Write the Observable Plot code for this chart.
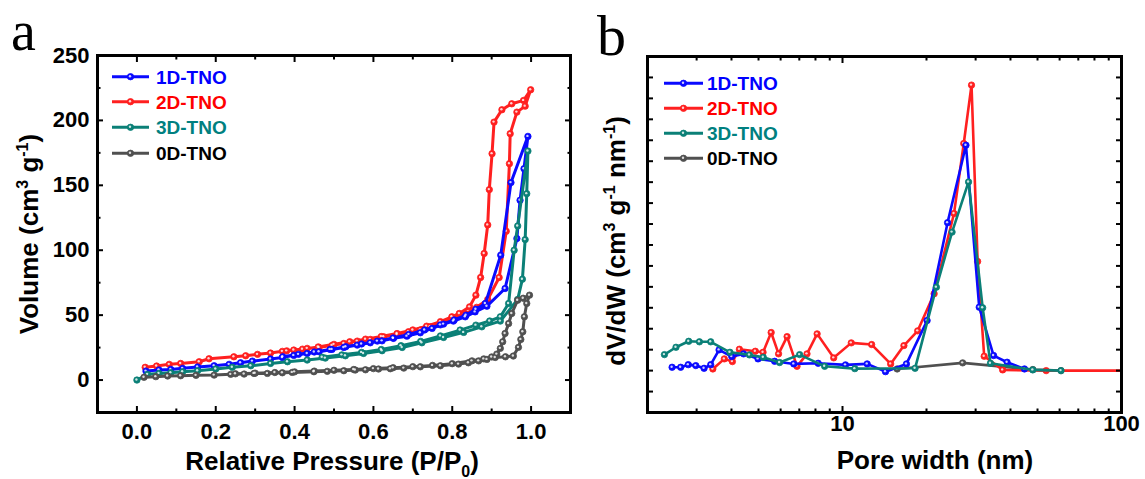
<!DOCTYPE html>
<html><head><meta charset="utf-8">
<script src="https://cdn.jsdelivr.net/npm/d3@7"></script>
<script src="https://cdn.jsdelivr.net/npm/@observablehq/plot@0.6"></script>
<style>
html,body{margin:0;padding:0;background:#fff;}
#wrap{position:relative;width:1145px;height:479px;overflow:hidden;font-family:"Liberation Sans",Arial,sans-serif;}
#wrap svg{position:absolute;top:0;}
#wrap svg.plotpanel text{font-weight:bold;}
</style></head><body><div id="wrap"></div>
<script>
// ---------- series ----------
const seriesNames = ["1D-TNO", "2D-TNO", "3D-TNO", "0D-TNO"];
const seriesColors = ["#0a0aff", "#ff2020", "#0b8077", "#505050"];
const legendTextColors = ["#0000ff", "#ff0000", "#008080", "#000000"];

// ---------- panel a: N2 isotherms (adsorption then desorption) ----------
const p1D = [0.023,0.056,0.086,0.116,0.154,0.196,0.234,0.263,0.293,0.339,0.369,0.398,0.432,0.462,0.495,0.525,0.559,0.592,0.622,0.651,0.685,0.719,0.749,0.778,0.803,0.833,0.858,0.888,0.934,0.964,0.972,0.982,0.992,
  0.949,0.923,0.884,0.860,0.835,0.805,0.770,0.730,0.690,0.650,0.610,0.570,0.530,0.490,0.450,0.410,0.370];
const v1D = [6.9,7.7,8.2,9.0,10.0,11.0,12.1,13.3,14.6,16.2,17.4,19.0,20.5,21.8,23.6,25.1,26.9,28.7,30.2,32.1,33.8,36.4,39.8,43.1,45.4,48.7,52.5,56.9,70.5,109,138.5,162.8,187.7,
  152.1,96.2,59.0,54.5,50.0,46.3,42.5,38.6,35.2,32.4,30.0,27.8,25.7,23.6,21.6,19.8,17.9];

const p2D = [0.021,0.050,0.082,0.111,0.158,0.183,0.246,0.276,0.306,0.339,0.369,0.398,0.432,0.462,0.495,0.525,0.559,0.592,0.626,0.660,0.689,0.719,0.744,0.774,0.805,0.835,0.862,0.890,0.919,0.937,0.945,0.947,0.964,0.985,0.999,
  0.981,0.951,0.926,0.906,0.901,0.894,0.890,0.881,0.872,0.860,0.844,0.818,0.799,0.770,0.735,0.700,0.660,0.620,0.580,0.540,0.500,0.460,0.420,0.380];
const v2D = [9.8,10.8,12.1,12.8,14.1,16.4,17.9,18.7,19.8,20.8,22.1,23.1,24.4,25.1,26.7,28.2,30.0,31.3,33.3,35.1,37.2,38.5,41.0,44.1,47.0,51.0,56.0,62.0,79.0,114.6,166.7,189.8,206.4,211.0,223.6,
  215.4,212.8,208.2,198.7,174.4,146.7,119.5,97.5,79.0,65.4,56.4,51.3,48.7,45.0,41.5,38.6,35.8,33.5,31.5,29.5,27.5,25.5,23.8,22.5];

const p3D = [0.000,0.027,0.056,0.086,0.116,0.154,0.200,0.242,0.289,0.339,0.382,0.432,0.478,0.529,0.575,0.622,0.673,0.723,0.778,0.829,0.875,0.922,0.966,0.978,0.985,0.989,0.992,
  0.966,0.957,0.943,0.922,0.895,0.860,0.820,0.770,0.720,0.670,0.620,0.570,0.520,0.470];
const v3D = [0.0,4.4,5.1,5.6,6.4,7.2,8.5,9.8,11.0,12.8,14.1,15.4,16.9,18.7,20.5,22.6,25.1,28.7,32.8,36.7,41.0,45.4,62.1,77.7,108.2,143.6,176.4,
  118.7,100.0,59.0,48.7,45.5,42.3,38.5,34.0,29.8,26.5,23.5,21.3,19.4,17.6];

const p0D = [0.018,0.048,0.078,0.111,0.150,0.196,0.238,0.272,0.297,0.331,0.369,0.394,0.449,0.483,0.525,0.554,0.580,0.613,0.643,0.677,0.719,0.770,0.816,0.841,0.867,0.888,0.909,0.935,0.955,0.968,0.974,0.979,0.983,0.989,0.996,
  0.980,0.966,0.951,0.943,0.934,0.928,0.922,0.913,0.900,0.880,0.850,0.800,0.750,0.700,0.650,0.600,0.550,0.500,0.450,0.400,0.350,0.300,0.250];
const v0D = [2.1,2.6,3.1,3.3,3.6,3.8,4.4,4.6,5.1,5.1,5.6,5.9,6.4,6.7,7.2,7.7,7.9,8.5,8.7,9.2,10.2,11.0,12.3,13.3,14.8,15.9,17.4,17.9,18.5,25.2,31.3,37.2,48.7,59.0,65.4,
  63.0,61.5,51.3,43.5,35.9,29.5,24.4,20.0,17.8,16.3,14.8,12.6,11.3,10.3,9.5,8.8,8.1,7.5,6.9,6.3,5.8,5.3,4.8];

const xTicksA = [0, 0.2, 0.4, 0.6, 0.8, 1.0];
const xMinorA = [0.1, 0.3, 0.5, 0.7, 0.9];
const yTicksA = [0, 50, 100, 150, 200, 250];
const yMinorA = [25, 75, 125, 175, 225];

// ---------- panel b: pore size distribution ----------
const w1D = [2.45,2.63,2.80,2.98,3.19,3.37,3.61,4.01,4.42,4.98,5.71,6.69,8.18,10.25,12.26,14.26,16.95,20.1,23.8,27.7,30.9,34.8,38.9,44.9];
const d1D = [0.00032,0.00032,0.00057,0.00048,0.00022,0.00057,0.00198,0.00134,0.00160,0.00112,0.00089,0.00064,0.00070,0.00055,0.00064,-0.00010,0.00064,0.00478,0.01413,0.02153,0.00606,0.00144,0.00080,0.00016];

const w2D = [3.43,3.77,4.03,4.27,4.87,5.19,5.55,5.90,6.33,6.87,7.46,8.11,9.30,10.75,12.72,14.88,16.6,18.6,21.3,25.1,27.2,29.0,30.5,32.2,37.5,53.7,150];
const d2D = [0.00016,0.00112,0.00086,0.00204,0.00185,0.00175,0.00364,0.00160,0.00325,0.00041,0.00160,0.00351,0.00122,0.00265,0.00249,0.00064,0.00239,0.00380,0.00734,0.01500,0.02169,0.02727,0.01043,0.00137,0.00007,0,0];

const w3D = [2.30,2.53,2.81,3.07,3.37,3.95,4.64,5.20,5.95,7.02,8.63,11.07,18.2,21.7,24.7,28.3,31.8,33.9,48.1,60.7];
const d3D = [0.00153,0.00223,0.00280,0.00275,0.00275,0.00175,0.00150,0.00127,0.00077,0.00153,0.00041,0.00019,0.00022,0.00797,0.01323,0.01802,0.00600,0.00070,0.00007,0];

const w0D = [15.7,26.96,48.1,60.7];
const d0D = [0.00016,0.00074,0.00010,0];

const xTicksB = [10, 100];
const xMinorB = [3,4,5,6,7,8,9,20,30,40,50,60,70,80,90];
const yTicksB = d3.range(-0.002, 0.0281, 0.002);

// ---------- helpers ----------
const rows = (xs, ys) => xs.map((x, i) => ({x, y: ys[i]}));
const FONT = "Liberation Sans, Arial, Helvetica, sans-serif";

function seriesMarks(data, color, sw) {
  return [
    Plot.line(data, {x: "x", y: "y", stroke: color, strokeWidth: sw, strokeLinejoin: "round", clip: true}),
    Plot.dot(data, {x: "x", y: "y", r: 3.2, fill: color, stroke: color, strokeWidth: 0.8, clip: true}),
    Plot.dot(data, {x: "x", y: "y", r: 1.2, fill: "white", fillOpacity: 0.8, dx: -0.5, dy: -0.5, clip: true})
  ];
}
const noText = () => "";
function frameTicks(xMajor, xMinor, yMajor, yMinor, majLen, minLen) {
  const m = [];
  for (const anchor of ["bottom", "top"]) {
    m.push(Plot.axisX({anchor, ticks: xMajor, tickSize: -majLen, tickFormat: noText, label: null, strokeWidth: 2}));
    m.push(Plot.axisX({anchor, ticks: xMinor, tickSize: -minLen, tickFormat: noText, label: null, strokeWidth: 2}));
  }
  for (const anchor of ["left", "right"]) {
    m.push(Plot.axisY({anchor, ticks: yMajor, tickSize: -majLen, tickFormat: noText, label: null, strokeWidth: 2}));
    if (yMinor) m.push(Plot.axisY({anchor, ticks: yMinor, tickSize: -minLen, tickFormat: noText, label: null, strokeWidth: 2}));
  }
  return m;
}

const wrap = document.getElementById("wrap");

// ---------- panel a ----------
const dataA = [rows(p1D, v1D), rows(p2D, v2D), rows(p3D, v3D), rows(p0D, v0D)];
const orderA = [1, 0, 2, 3];
const plotA = Plot.plot({
  width: 580, height: 479,
  marginLeft: 97, marginRight: 10, marginTop: 55, marginBottom: 67,
  className: "plotpanel",
  style: {fontFamily: FONT, background: "transparent", overflow: "visible"},
  x: {domain: [-0.1, 1.1]},
  y: {domain: [-25, 250]},
  marks: [
    ...orderA.flatMap(i => seriesMarks(dataA[i], seriesColors[i], 3)),
    ...frameTicks(xTicksA, xMinorA, yTicksA, yMinorA, 6, 3.5),
    Plot.axisX({ticks: xTicksA, tickSize: 0, tickPadding: 11, tickFormat: d3.format(".1f"), label: null, fontSize: 22, fontWeight: "bold", fill: "black"}),
    Plot.axisY({ticks: yTicksA, tickSize: 0, tickPadding: 8, tickFormat: d3.format("d"), label: null, fontSize: 22, fontWeight: "bold", fill: "black"}),
    Plot.frame({stroke: "black", strokeWidth: 3})
  ]
});
plotA.classList.add("plotpanel");
plotA.style.left = "0px";
wrap.appendChild(plotA);

// ---------- panel b ----------
const dataB = [rows(w1D, d1D), rows(w2D, d2D), rows(w3D, d3D), rows(w0D, d0D)];
const orderB = [3, 1, 0, 2];
const plotB = Plot.plot({
  width: 565, height: 479,
  marginLeft: 67, marginRight: 24, marginTop: 56, marginBottom: 67,
  style: {fontFamily: FONT, background: "transparent", overflow: "visible"},
  x: {type: "log", domain: [2, 100]},
  y: {domain: [-0.004, 0.030]},
  marks: [
    ...orderB.flatMap(i => seriesMarks(dataB[i], seriesColors[i], 2.6)),
    ...frameTicks(xTicksB, xMinorB, yTicksB, null, 6, 3.5),
    Plot.axisX({ticks: xTicksB, tickSize: 0, tickPadding: 3, tickFormat: d => String(d), label: null, fontSize: 22, fontWeight: "bold", fill: "black"}),
    Plot.frame({stroke: "black", strokeWidth: 3})
  ]
});
plotB.classList.add("plotpanel");
plotB.style.left = "580px";
wrap.appendChild(plotB);

// ---------- overlay: titles, legends, panel letters ----------
const ov = d3.select(wrap).append("svg")
  .attr("width", 1145).attr("height", 479)
  .style("left", "0px").style("font-family", FONT);

ov.append("text").attr("x", 11).attr("y", 50)
  .attr("font-family", "Liberation Serif, Times New Roman, serif").attr("font-size", 56).text("a");
ov.append("text").attr("x", 597).attr("y", 55)
  .attr("font-family", "Liberation Serif, Times New Roman, serif").attr("font-size", 58).text("b");

function richText(g, parts) {
  let shift = 0;
  for (const [t, kind] of parts) {
    const target = kind === "sup" ? -10 : kind === "sub" ? 7 : 0;
    g.append("tspan").attr("dy", target - shift)
      .attr("font-size", kind === "n" ? null : 16).text(t);
    shift = target;
  }
}
const titleStyle = sel => sel.attr("font-size", 26).attr("font-weight", "bold").attr("fill", "black").attr("text-anchor", "middle");

richText(ov.append("text").call(titleStyle).attr("transform", "translate(38,234) rotate(-90)"),
  [["Volume (cm", "n"], ["3", "sup"], [" g", "n"], ["-1", "sup"], [")", "n"]]);
richText(ov.append("text").call(titleStyle).attr("x", 332).attr("y", 470),
  [["Relative Pressure (P/P", "n"], ["0", "sub"], [")", "n"]]);
richText(ov.append("text").call(titleStyle).attr("transform", "translate(625,241) rotate(-90)"),
  [["dV/dW (cm", "n"], ["3", "sup"], [" g", "n"], ["-1", "sup"], [" nm", "n"], ["-1", "sup"], [")", "n"]]);
ov.append("text").call(titleStyle).attr("x", 935).attr("y", 469).text("Pore width (nm)");

function legend(x0, x1, tx, ys) {
  seriesNames.forEach((name, i) => {
    const y = ys[i];
    ov.append("line").attr("x1", x0).attr("x2", x1).attr("y1", y).attr("y2", y)
      .attr("stroke", seriesColors[i]).attr("stroke-width", 3);
    ov.append("circle").attr("cx", (x0 + x1) / 2).attr("cy", y).attr("r", 3.2)
      .attr("fill", seriesColors[i]).attr("stroke", seriesColors[i]).attr("stroke-width", 0.8);
    ov.append("circle").attr("cx", (x0 + x1) / 2 - 0.5).attr("cy", y - 0.5).attr("r", 1.2)
      .attr("fill", "white").attr("fill-opacity", 0.8);
    ov.append("text").attr("x", tx).attr("y", y + 6.8).attr("font-size", 19).attr("font-weight", "bold")
      .attr("fill", legendTextColors[i]).text(name);
  });
}
legend(112, 149, 156, [76.7, 101.7, 127.3, 153.3]);
legend(664, 703, 707, [83.3, 108.3, 133.3, 158.3]);
</script></body></html>
